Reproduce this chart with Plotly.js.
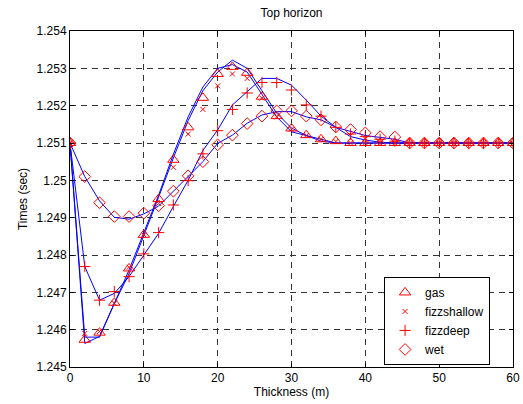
<!DOCTYPE html>
<html>
<head>
<meta charset="utf-8">
<script src="https://cdn.plot.ly/plotly-3.0.1.min.js"></script>
<style>html,body{margin:0;padding:0;background:#fff;}#chart{width:523px;height:404px;}</style>
</head>
<body>
<div id="chart"></div>
<script>
// Thickness values (m)
var thickness = [0,2,4,6,8,10,12,14,16,18,20,22,24,26,28,30,32,34,36,38,40,42,44,46,48,50,52,54,56,58,60];

// Marker (data) series
var gasPts = [1.2510,1.24573,1.24592,1.24672,1.24764,1.24854,1.24950,1.25055,1.25142,1.25221,1.25285,1.25304,1.25288,1.25224,1.25172,1.25139,1.25121,1.25110,1.25105,1.25100,1.25100,1.25100,1.25100,1.25100,1.25100,1.25100,1.25100,1.25100,1.25100,1.25100,1.25100];
var fizzshallowPts = [1.2510,1.24590,1.24595,1.24671,1.24767,1.24854,1.24938,1.25035,1.25124,1.25190,1.25253,1.25285,1.25273,1.25220,1.25170,1.25137,1.25120,1.25110,1.25104,1.25100,1.25100,1.25100,1.25100,1.25100,1.25100,1.25100,1.25100,1.25100,1.25100,1.25100,1.25100];
var fizzdeepPts = [1.2510,1.24769,1.24679,1.24702,1.24742,1.24803,1.24860,1.24934,1.24999,1.25071,1.25133,1.25190,1.25234,1.25262,1.25262,1.25242,1.25202,1.25172,1.25142,1.25124,1.25117,1.25110,1.25105,1.25100,1.25100,1.25100,1.25100,1.25100,1.25100,1.25100,1.25100];
var wetPts = [1.2510,1.25010,1.24940,1.24903,1.24903,1.24912,1.24932,1.24971,1.25012,1.25050,1.25095,1.25121,1.25152,1.25172,1.25186,1.25186,1.25172,1.25162,1.25143,1.25136,1.25127,1.25117,1.25116,1.25100,1.25100,1.25100,1.25100,1.25100,1.25100,1.25100,1.25100];

// Line (model) series
var gasLine = [1.2510,1.24563,1.24582,1.24670,1.24750,1.24850,1.24955,1.25060,1.25160,1.25240,1.25290,1.25322,1.25300,1.25240,1.25180,1.25140,1.25120,1.25105,1.25100,1.25100,1.25100,1.25100,1.25100,1.25100,1.25100,1.25100,1.25100,1.25100,1.25100,1.25100,1.25100];
var fizzshallowLine = [1.2510,1.24580,1.24580,1.24670,1.24760,1.24860,1.24960,1.25070,1.25170,1.25250,1.25300,1.25310,1.25290,1.25230,1.25170,1.25130,1.25120,1.25110,1.25100,1.25100,1.25100,1.25100,1.25100,1.25100,1.25100,1.25100,1.25100,1.25100,1.25100,1.25100,1.25100];
var fizzdeepLine = [1.2510,1.24769,1.24679,1.24697,1.24742,1.24800,1.24858,1.24930,1.25000,1.25080,1.25135,1.25202,1.25237,1.25273,1.25273,1.25255,1.25215,1.25172,1.25142,1.25117,1.25108,1.25102,1.25100,1.25100,1.25100,1.25100,1.25100,1.25100,1.25100,1.25100,1.25100];
var wetLine = [1.2510,1.25010,1.24945,1.24901,1.24896,1.24910,1.24931,1.24970,1.25010,1.25050,1.25099,1.25121,1.25153,1.25175,1.25184,1.25184,1.25170,1.25162,1.25142,1.25130,1.25120,1.25115,1.25110,1.25100,1.25100,1.25100,1.25100,1.25100,1.25100,1.25100,1.25100];

var seriesNames = ['gas','fizzshallow','fizzdeep','wet'];
var yTickVals = [1.245,1.246,1.247,1.248,1.249,1.25,1.251,1.252,1.253,1.254];
var yTickText = ['1.245','1.246','1.247','1.248','1.249','1.25','1.251','1.252','1.253','1.254'];
var xTickVals = [0,10,20,30,40,50,60];

var lineSets = [gasLine, fizzshallowLine, fizzdeepLine, wetLine];
var ptSets = [gasPts, fizzshallowPts, fizzdeepPts, wetPts];
var symbols = ['triangle-up-open','x-thin-open','cross-thin-open','diamond-open'];
var sizes = [10,5,8,9];

var traces = [];
lineSets.forEach(function(ys, i){
  traces.push({x: thickness, y: ys, type:'scatter', mode:'lines', showlegend:false,
    line:{color:'#0000ff', width:1}, hoverinfo:'skip'});
});
ptSets.forEach(function(ys, i){
  traces.push({x: thickness, y: ys, type:'scatter', mode:'markers', name: seriesNames[i],
    marker:{symbol: symbols[i], size: sizes[i], color:'#ff0000', line:{color:'#ff0000', width:1}}});
});

var axisCommon = {
  showline:true, linecolor:'#000', linewidth:1, mirror:'allticks',
  ticks:'inside', ticklen:4, tickcolor:'#000',
  showgrid:true, gridcolor:'#333', gridwidth:1, griddash:'6px,5px',
  zeroline:false, tickfont:{family:'Liberation Sans, Arial', size:12, color:'#000'}
};

var layout = {
  width:523, height:404,
  margin:{l:70, r:10, t:31, b:37},
  paper_bgcolor:'#fff', plot_bgcolor:'#fff',
  font:{family:'Liberation Sans, Arial', size:12, color:'#000'},
  title:{text:'Top horizon', font:{size:12, color:'#000'}, x:0.5, xref:'paper', y:0.968, yanchor:'middle'},
  xaxis: Object.assign({}, axisCommon, {range:[0,60], tickvals:xTickVals,
    title:{text:'Thickness (m)', font:{size:12}, standoff:2}}),
  yaxis: Object.assign({}, axisCommon, {range:[1.245,1.254], tickvals:yTickVals, ticktext:yTickText,
    title:{text:'Times (sec)', font:{size:12}, standoff:6}}),
  legend:{x:0.709, y:0.268, xanchor:'left', yanchor:'top', bgcolor:'#fff',
    bordercolor:'#000', borderwidth:1, font:{size:12}, tracegroupgap:0, itemwidth:30}
};

Plotly.newPlot('chart', traces, layout, {displayModeBar:false, staticPlot:true});
</script>
</body>
</html>
